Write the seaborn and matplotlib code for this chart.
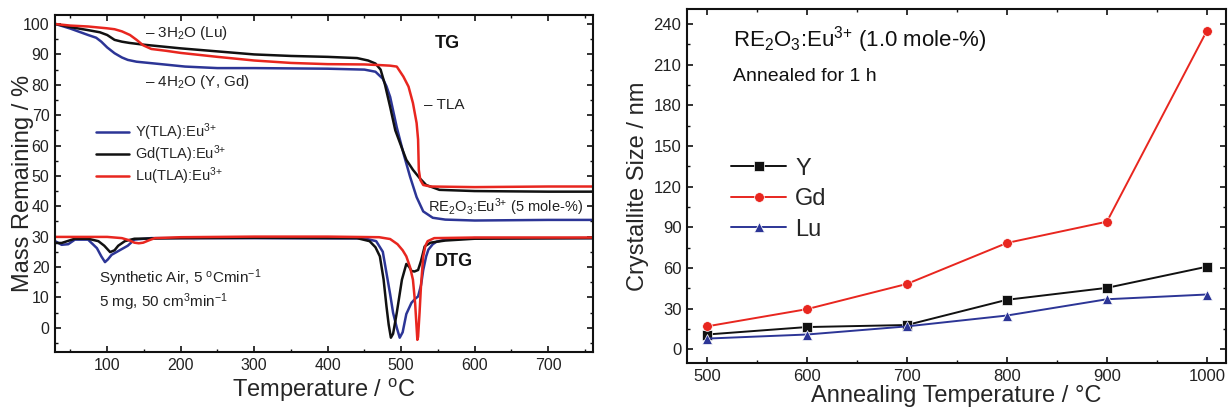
import numpy as np
import pandas as pd
import matplotlib
matplotlib.use("Agg")
import matplotlib.pyplot as plt
import seaborn as sns
from matplotlib.ticker import MultipleLocator

sns.set_theme(style="white")
plt.rcParams['font.family'] = ['Liberation Sans', 'DejaVu Sans']
plt.rcParams['mathtext.fontset'] = 'custom'
plt.rcParams['mathtext.rm'] = 'Liberation Sans'
plt.rcParams['mathtext.it'] = 'Liberation Sans:italic'
plt.rcParams['mathtext.bf'] = 'Liberation Sans:bold'
plt.rcParams['mathtext.default'] = 'regular'

# ---------------- Left panel data (TG / DTG) ----------------
samples = ["Y(TLA):Eu$^{3{+}}$", "Gd(TLA):Eu$^{3{+}}$", "Lu(TLA):Eu$^{3{+}}$"]

tg_Y_T = [30, 50, 74, 85, 92, 100, 110, 120, 128, 140, 165, 206, 250, 300, 400, 450, 465, 475,
          480, 485, 494, 503, 512, 521, 530, 543, 560, 600, 700, 760]
tg_Y_v = [100, 98.5, 96.4, 95.5, 94.2, 92.3, 90.4, 89.0, 88.2, 87.6, 87.0, 86.0, 85.5, 85.5, 85.3, 85.0, 84.3, 82.0,
          79.5, 76.0, 66.0, 57.5, 49.8, 43.0, 38.3, 36.2, 35.6, 35.3, 35.5, 35.5]

tg_Gd_T = [30, 50, 74, 90, 100, 110, 120, 130, 150, 200, 250, 300, 350, 400, 440, 455, 465, 472,
           478, 485, 492, 502, 507, 516, 525, 534, 552, 600, 700, 760]
tg_Gd_v = [100, 99.0, 98.0, 97.3, 96.4, 94.8, 94.2, 93.8, 93.2, 92.0, 91.0, 90.0, 89.5, 89.2, 88.8, 88.0, 87.0, 85.0,
           80.0, 72.7, 65.0, 58.5, 55.3, 52.0, 49.3, 47.0, 45.4, 45.0, 44.8, 44.8]

tg_Lu_T = [30, 50, 74, 100, 110, 120, 131, 140, 149, 160, 180, 200, 250, 300, 350, 400, 450, 470,
           485, 494, 503, 510, 516, 521, 523, 524, 526, 530, 540, 600, 700, 760]
tg_Lu_v = [100, 99.5, 99.2, 98.6, 98.3, 97.6, 96.4, 94.8, 93.0, 91.8, 91.2, 90.5, 89.2, 88.0, 87.2, 86.8, 86.7, 86.5,
           86.3, 86.0, 82.7, 79.4, 74.0, 67.4, 62.0, 52.0, 48.7, 47.0, 46.5, 46.3, 46.5, 46.5]

dtg_Y_T = [30, 38, 47, 56, 74, 86, 92, 97, 101, 106, 117, 128, 137, 160, 300, 450, 466, 475, 480, 485,
           489, 494, 498, 502, 507, 514, 519, 523, 527, 530, 534, 537, 543, 548, 560, 600, 760]
dtg_Y_v = [28.4, 27.3, 27.5, 29.0, 29.0, 26.2, 23.5, 21.6, 22.5, 24.0, 25.5, 27.0, 29.0, 29.5, 29.5, 29.4, 28.5, 25.0, 18.0, 11.0,
           4.9, 0.0, -3.3, -1.5, 4.5, 8.2, 9.5, 10.3, 14.0, 19.0, 23.5, 25.7, 27.5, 28.3, 29.0, 29.5, 29.5]

dtg_Gd_T = [30, 38, 56, 74, 88, 96, 104, 110, 115, 124, 137, 200, 300, 440, 457, 465, 471, 476, 480, 483,
            486, 489, 494, 501, 507, 511, 514, 518, 523, 527, 532, 540, 548, 560, 600, 760]
dtg_Gd_v = [27.9, 27.9, 29.3, 29.3, 28.5, 27.0, 24.9, 25.5, 27.0, 28.5, 29.3, 29.5, 29.6, 29.5, 28.5, 26.5, 23.5, 16.0, 7.0, 1.0,
            -3.3, -2.0, 4.9, 15.8, 21.0, 20.0, 18.7, 18.5, 19.0, 22.0, 26.8, 28.0, 28.3, 28.7, 29.3, 29.5]

dtg_Lu_T = [30, 100, 120, 130, 137, 143, 149, 157, 165, 200, 300, 400, 470, 485, 495, 502, 507, 512, 516,
            519, 521, 522, 523, 525, 527, 530, 533, 536, 545, 600, 760]
dtg_Lu_v = [29.9, 29.9, 29.5, 28.8, 28.0, 27.8, 28.0, 28.8, 29.5, 29.8, 30.0, 30.0, 29.8, 29.2, 27.5, 25.5, 23.5, 20.0, 15.8,
            8.0, 0.0, -4.0, -3.0, 4.9, 14.0, 23.5, 27.0, 28.5, 29.5, 29.7, 29.7]

# ---------------- Right panel data ----------------
anneal_T = [500, 600, 700, 800, 900, 1000]
size_Y = [11, 16.5, 18, 36.6, 45.4, 61]
size_Gd = [17, 29.7, 48.3, 78.5, 94.2, 235]
size_Lu = [8, 11, 17, 25, 37, 40.5]

c_blue = '#2c3596'
c_black = '#111111'
c_red = '#e8261f'

def frame(samp, T, v):
    return pd.DataFrame({"T": T, "v": v, "sample": samp})

tg_df = pd.concat([frame(samples[0], tg_Y_T, tg_Y_v),
                   frame(samples[1], tg_Gd_T, tg_Gd_v),
                   frame(samples[2], tg_Lu_T, tg_Lu_v)], ignore_index=True)
dtg_df = pd.concat([frame(samples[0], dtg_Y_T, dtg_Y_v),
                    frame(samples[1], dtg_Gd_T, dtg_Gd_v),
                    frame(samples[2], dtg_Lu_T, dtg_Lu_v)], ignore_index=True)
pal_left = {samples[0]: c_blue, samples[1]: c_black, samples[2]: c_red}

right_df = pd.concat([
    pd.DataFrame({"T": anneal_T, "size": size_Y, "RE": "Y"}),
    pd.DataFrame({"T": anneal_T, "size": size_Gd, "RE": "Gd"}),
    pd.DataFrame({"T": anneal_T, "size": size_Lu, "RE": "Lu"}),
], ignore_index=True)
pal_right = {"Y": c_black, "Gd": c_red, "Lu": c_blue}

fig = plt.figure(figsize=(12.28, 4.11), dpi=100)
ax1 = fig.add_axes([0.0448, 0.1436, 0.4381, 0.820])
ax2 = fig.add_axes([0.5594, 0.1168, 0.4389, 0.8613])

# ---- left
sns.lineplot(data=tg_df, x="T", y="v", hue="sample", palette=pal_left, estimator=None,
             sort=False, lw=1.8, ax=ax1, legend=True)
sns.lineplot(data=dtg_df, x="T", y="v", hue="sample", palette=pal_left, estimator=None,
             sort=False, lw=1.8, ax=ax1, legend=False)
ax1.set_xlim(29, 761)
ax1.set_ylim(-8, 103)
ax1.xaxis.set_major_locator(MultipleLocator(100))
ax1.xaxis.set_minor_locator(MultipleLocator(50))
ax1.yaxis.set_major_locator(MultipleLocator(10))
ax1.yaxis.set_minor_locator(MultipleLocator(5))
ax1.set_xlabel("Temperature / $^{o}$C", fontsize=17, labelpad=3)
ax1.set_ylabel("Mass Remaining / %", fontsize=17, labelpad=-8)
ax1.legend(loc="upper left", bbox_to_anchor=(0.065, 0.70), frameon=False, fontsize=10.5,
           handlelength=2.3, handletextpad=0.4, labelspacing=0.0, borderaxespad=0)
txt = dict(transform=ax1.transAxes, fontsize=11, color='#222222', va='center', ha='left')
ax1.text(0.168, 0.946, "– 3H$_2$O (Lu)", **txt)
ax1.text(0.168, 0.802, "– 4H$_2$O (Y, Gd)", **txt)
ax1.text(0.686, 0.733, "– TLA", **txt)
ax1.text(0.694, 0.431, "RE$_2$O$_3$:Eu$^{3{+}}$ (5 mole-%)", transform=ax1.transAxes, fontsize=10.5,
         color='#222222', va='center', ha='left')
ax1.text(0.0815, 0.219, "Synthetic Air, 5 $^{o}$Cmin$^{-1}$", **txt)
ax1.text(0.0815, 0.149, "5 mg, 50 cm$^3$min$^{-1}$", **txt)
ax1.text(0.706, 0.916, "TG", transform=ax1.transAxes, fontsize=13, fontweight='bold', va='center', ha='left', color='#111111')
ax1.text(0.706, 0.268, "DTG", transform=ax1.transAxes, fontsize=13, fontweight='bold', va='center', ha='left', color='#111111')

# ---- right
sns.lineplot(data=right_df, x="T", y="size", hue="RE", style="RE", palette=pal_right,
             markers={"Y": "s", "Gd": "o", "Lu": "^"}, dashes=False, markersize=7,
             markeredgewidth=0.5, lw=1.4, ax=ax2, legend=True)
ax2.set_xlim(480, 1019)
ax2.set_ylim(-10, 251)
ax2.xaxis.set_major_locator(MultipleLocator(100))
ax2.xaxis.set_minor_locator(MultipleLocator(50))
ax2.yaxis.set_major_locator(MultipleLocator(30))
ax2.yaxis.set_minor_locator(MultipleLocator(15))
ax2.set_xlabel("Annealing Temperature / °C", fontsize=17, labelpad=1)
ax2.set_ylabel("Crystallite Size / nm", fontsize=17, labelpad=3)
ax2.legend(loc="upper left", bbox_to_anchor=(0.065, 0.607), frameon=False, fontsize=17,
           handlelength=2.3, handletextpad=0.4, labelspacing=0.36, borderaxespad=0)
ax2.text(0.085, 0.915, "RE$_2$O$_3$:Eu$^{3{+}}$ (1.0 mole-%)", transform=ax2.transAxes,
         fontsize=16, va='center', ha='left', color='#111111')
ax2.text(0.085, 0.808, "Annealed for 1 h", transform=ax2.transAxes,
         fontsize=14, va='center', ha='left', color='#111111')

for ax, fs in ((ax1, 11.5), (ax2, 12)):
    for s in ax.spines.values():
        s.set_visible(True)
        s.set_color('#111111')
        s.set_linewidth(1.5)
    ax.tick_params(which='both', direction='in', top=True, right=True, bottom=True, left=True,
                   colors='#111111', labelcolor='#222222')
    ax.tick_params(which='major', length=4, width=1.2, labelsize=fs, pad=4)
    ax.tick_params(which='minor', length=2.2, width=1.0)
    ax.grid(False)

fig.savefig("out.png", dpi=100)
